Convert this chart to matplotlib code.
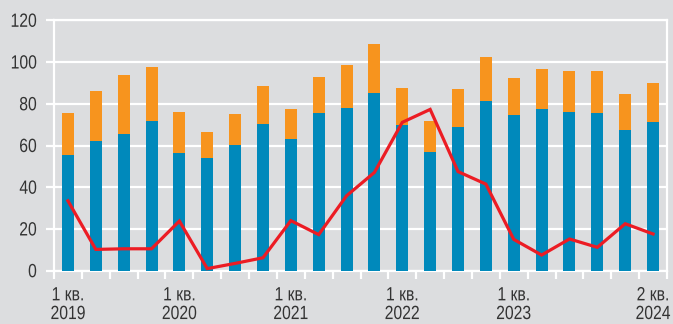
import matplotlib
matplotlib.use("Agg")
import matplotlib.pyplot as plt
from matplotlib.patheffects import AbstractPathEffect
from matplotlib.transforms import Affine2D
import numpy as np

# Quarterly data, 1 кв. 2019 – 2 кв. 2024
quarters = ["1 кв.\n2019", "", "", "",
            "1 кв.\n2020", "", "", "",
            "1 кв.\n2021", "", "", "",
            "1 кв.\n2022", "", "", "",
            "1 кв.\n2023", "", "", "",
            "", "2 кв.\n2024"]
base_part = [55.5, 62.2, 65.5, 71.7, 56.4, 54.0, 60.2, 70.3, 63.1, 75.6, 78.0,
             85.1, 69.8, 56.9, 68.9, 81.3, 74.6, 77.5, 76.0, 75.6, 67.4, 71.3]
total = [75.6, 86.1, 93.8, 97.6, 76.0, 66.4, 75.1, 88.5, 77.5, 92.8, 98.6,
         108.6, 87.5, 71.7, 87.1, 102.4, 92.3, 96.6, 95.7, 95.7, 84.7, 89.9]
line_values = [33.5, 10.2, 10.5, 10.5, 23.8, 1.0, 3.5, 6.2, 24.0, 17.3, 35.9,
               47.1, 71.1, 77.3, 47.5, 41.5, 15.0, 7.5, 15.2, 11.2, 22.5, 17.6]
y_ticks = [0, 20, 40, 60, 80, 100, 120]

upper_part = [t - b for t, b in zip(total, base_part)]


class Condensed(AbstractPathEffect):
    """Draw text narrower, squeezing each line horizontally about an anchor."""

    def __init__(self, sx=0.82, anchor="center"):
        super().__init__()
        self.sx = sx
        self.anchor = anchor

    def draw_path(self, renderer, gc, tpath, affine, rgbFace=None):
        if len(tpath.vertices) == 0:
            return
        ext = tpath.transformed(affine).get_extents()
        if self.anchor == "right":
            x0 = ext.x1
        elif self.anchor == "left":
            x0 = ext.x0
        else:
            x0 = 0.5 * (ext.x0 + ext.x1)
        squeeze = Affine2D().translate(-x0, 0).scale(self.sx, 1).translate(x0, 0)
        renderer.draw_path(gc, tpath, affine + squeeze, rgbFace)


plt.rcParams["font.family"] = ["Liberation Sans", "DejaVu Sans"]

BG = "#dcdddf"
BLUE = "#0089bb"
ORANGE = "#f7941e"
RED = "#ec1c24"
TEXT = "#333333"
FS = 13.8

fig = plt.figure(figsize=(6.73, 3.24), dpi=100, facecolor=BG)
ax = fig.add_axes([54 / 673, 53.3 / 324, 613 / 673, 250.4 / 324])
ax.set_facecolor(BG)

x = np.arange(len(total))
ax.bar(x, base_part, width=0.43, color=BLUE, zorder=3)
ax.bar(x, upper_part, bottom=base_part, width=0.43, color=ORANGE, zorder=3)
ax.plot(x, line_values, color=RED, lw=2.3, zorder=4, solid_joinstyle="miter")

ax.set_xlim(-0.5, len(total) - 0.5)
ax.set_ylim(0, 120)

for s in ax.spines.values():
    s.set_color("white")
    s.set_linewidth(1.6)
    s.set_zorder(2)

ax.set_yticks(y_ticks)
ax.set_yticklabels([str(v) for v in y_ticks], fontsize=FS, color=TEXT)
ax.yaxis.grid(True, color="white", lw=1.6, zorder=1)
ax.tick_params(axis="y", length=5.8, width=1.6, color="white", pad=6.5)
for t in ax.get_yticklabels():
    t.set_path_effects([Condensed(0.82, "right")])

ax.set_xticks(x)
ax.set_xticklabels(quarters, fontsize=FS, color=TEXT, linespacing=1.13)
ax.set_xticks(np.arange(len(total) + 1) - 0.5, minor=True)
ax.tick_params(axis="x", which="major", length=0, pad=12)
ax.tick_params(axis="x", which="minor", length=5.5, width=1.6, color="white")
for t in ax.get_xticklabels():
    t.set_path_effects([Condensed(0.82, "center")])

fig.savefig("out.png", dpi=100, facecolor=BG)
